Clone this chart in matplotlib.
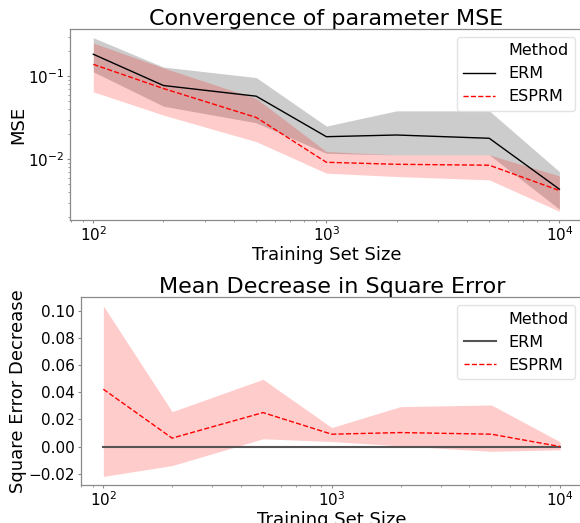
import matplotlib
matplotlib.use("Agg")
import matplotlib.pyplot as plt
from matplotlib.lines import Line2D

# training set sizes
sizes = [100, 200, 500, 1000, 2000, 5000, 10000]

# parameter MSE (top panel)
erm_mse = [0.184, 0.0773, 0.0575, 0.0187, 0.0196, 0.0179, 0.00436]
erm_mse_hi = [0.291, 0.129, 0.0964, 0.0251, 0.0383, 0.0383, 0.0071]
erm_mse_lo = [0.113, 0.0436, 0.0275, 0.0118, 0.0113, 0.0113, 0.00251]
esprm_mse = [0.139, 0.0711, 0.0319, 0.0092, 0.0087, 0.00848, 0.0042]
esprm_mse_hi = [0.251, 0.126, 0.054, 0.0124, 0.0113, 0.0113, 0.0063]
esprm_mse_lo = [0.0649, 0.034, 0.0163, 0.0068, 0.0062, 0.00565, 0.00236]

# decrease in square error (bottom panel)
erm_dec = [0, 0, 0, 0, 0, 0, 0]
esprm_dec = [0.0422, 0.0062, 0.025, 0.0091, 0.0103, 0.0091, 0.0]
esprm_dec_hi = [0.1036, 0.0257, 0.0495, 0.014, 0.0294, 0.0306, 0.0035]
esprm_dec_lo = [-0.022, -0.014, 0.0057, 0.0037, 0.0005, -0.0035, -0.0024]

spine_col = "#8a8a8a"

fig = plt.figure(figsize=(5.8, 5.23), dpi=100)
ax1 = fig.add_axes([0.1207, 0.5793, 0.884, 0.3652])
ax2 = fig.add_axes([0.1388, 0.0727, 0.8664, 0.3589])


def style(ax):
    for s in ax.spines.values():
        s.set_color(spine_col)
        s.set_linewidth(0.9)
    ax.tick_params(which="both", colors=spine_col, labelcolor="black", labelsize=11)
    ax.tick_params(which="major", length=2.5, pad=1.5)
    ax.tick_params(which="minor", length=1.5)


def add_legend(ax, erm_col, erm_lw):
    handles = [Line2D([], [], linestyle=""),
               Line2D([], [], color=erm_col, lw=erm_lw),
               Line2D([], [], color="red", lw=1, linestyle="--")]
    leg = ax.legend(handles, ["Method", "ERM", "ESPRM"], loc="upper right", fontsize=11.5)
    leg.get_frame().set_edgecolor("#dddddd")


# top panel
ax1.fill_between(sizes, erm_mse_lo, erm_mse_hi, color="black", alpha=0.2, lw=0)
ax1.plot(sizes, erm_mse, color="black", lw=1)
ax1.fill_between(sizes, esprm_mse_lo, esprm_mse_hi, color="red", alpha=0.2, lw=0)
ax1.plot(sizes, esprm_mse, color="red", lw=1, linestyle="--")
ax1.set_xscale("log")
ax1.set_yscale("log")
ax1.set_title("Convergence of parameter MSE", fontsize=16, pad=2)
ax1.set_xlabel("Training Set Size", fontsize=13, labelpad=1)
ax1.set_ylabel("MSE", fontsize=13, labelpad=1)
style(ax1)
add_legend(ax1, "black", 1)

# bottom panel
ax2.plot(sizes, erm_dec, color="#555555", lw=1.5)
ax2.fill_between(sizes, esprm_dec_lo, esprm_dec_hi, color="red", alpha=0.2, lw=0)
ax2.plot(sizes, esprm_dec, color="red", lw=1, linestyle="--")
ax2.set_xscale("log")
ax2.set_title("Mean Decrease in Square Error", fontsize=16, pad=2)
ax2.set_xlabel("Training Set Size", fontsize=13, labelpad=1)
ax2.set_ylabel("Square Error Decrease", fontsize=13, labelpad=1)
ax2.set_yticks([-0.02, 0.0, 0.02, 0.04, 0.06, 0.08, 0.10])
ax2.set_yticklabels(["\u22120.02", "0.00", "0.02", "0.04", "0.06", "0.08", "0.10"])
style(ax2)
add_legend(ax2, "#555555", 1.5)

fig.savefig("out.png", dpi=100)
